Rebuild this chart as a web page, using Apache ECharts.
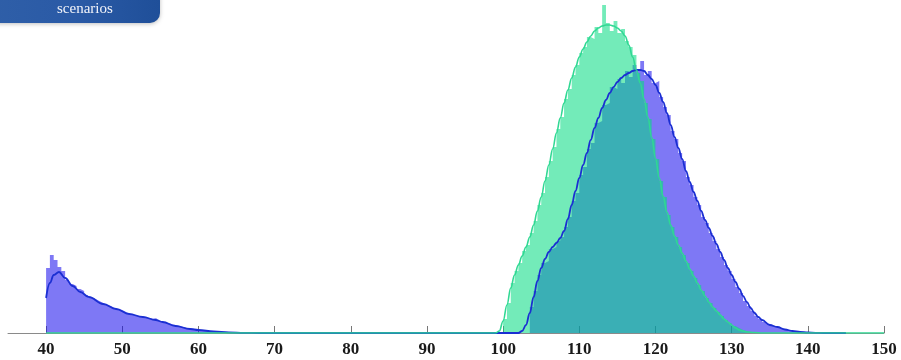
<!DOCTYPE html>
<html>
<head>
<meta charset="utf-8">
<script src="https://cdn.jsdelivr.net/npm/echarts@6/dist/echarts.min.js"></script>
<style>
  html, body { margin: 0; padding: 0; background: #fff; }
  #chart { width: 901px; height: 360px; }
</style>
</head>
<body>
<div id="chart"></div>
<script>
const binWidth = 0.5;
const blueLowStart = 40;
const blueLowCounts = [65, 78, 73, 66, 62, 53, 49, 47, 44, 42, 38, 35, 34, 32, 30, 28, 27, 25, 24, 23,
    21, 19, 18, 17, 17, 16, 15, 14, 15, 12, 11, 10, 9, 8, 7, 6, 5, 5, 4, 3,
    3, 2, 2, 2, 1, 1, 1, 1, 0.5, 0.5, 0.5, 0.5];
const blueHighStart = 103.5;
const blueHighCounts = [26, 42, 58, 70, 72, 84, 86, 92, 96, 106, 116, 132, 140, 158, 166, 184, 190, 210, 212, 228,
    230, 246, 244, 254, 250, 262, 256, 268, 262, 272, 258, 262, 250, 252, 236, 226, 218, 202, 194, 180,
    172, 156, 148, 136, 128, 116, 110, 100, 92, 84, 76, 68, 62, 54, 46, 40, 32, 27, 22, 17,
    14, 11, 9, 7, 6, 5, 4, 3, 2, 2, 1, 1, 0.5, 0.5];
const greenStart = 100;
const greenCounts = [14, 30, 50, 62, 70, 82, 88, 100, 112, 128, 140, 156, 172, 186, 204, 216, 234, 244, 258, 268,
    280, 286, 296, 294, 306, 300, 328, 310, 302, 312, 300, 304, 292, 286, 278, 260, 252, 230, 214, 194,
    174, 152, 136, 118, 106, 96, 86, 78, 70, 62, 55, 48, 42, 35, 30, 25, 21, 17, 13, 10,
    7, 5, 3, 2, 1, 1, 0.5];

// fitted density curves
const blueFitX = [40, 40.5, 41, 41.7, 42.5, 43.5, 44.5, 45.6, 47.5, 49.2, 50.9, 52.7, 54.4, 55.3, 57, 58.9, 60, 62, 64, 66, 68,
    100, 102, 102.5, 103, 103.5, 104, 104.5, 105, 105.5, 106, 106.5, 107, 107.5, 108, 108.5, 109, 109.5, 110, 110.5, 111, 111.5,
    112, 112.5, 113, 113.5, 114, 114.5, 115, 115.5, 116, 116.5, 117, 117.5, 118, 118.5, 119, 119.5, 120, 120.5, 121, 121.5,
    122, 122.5, 123, 123.5, 124, 124.5, 125, 125.5, 126, 126.5, 127, 127.5, 128, 128.5, 129, 129.5, 130, 130.5, 131, 131.5,
    132, 132.5, 133, 133.5, 134, 135, 136, 137, 138, 139, 140, 141, 142, 145];
const blueFitY = [35, 50, 58, 61, 55, 47, 41, 36, 29, 24, 19, 16, 13, 11, 7, 4, 3, 1.5, 0.7, 0.2, 0,
    0, 0, 2, 8, 20, 36, 52, 65, 74, 81, 86, 90, 95, 102, 114, 128, 142, 155, 168, 180, 193,
    205, 215, 225, 233, 240, 246, 251, 255, 258, 260, 262, 263, 263, 262, 258, 254, 248, 240, 231, 220,
    208, 196, 185, 174, 162, 151, 141, 132, 122, 113, 105, 97, 89, 81, 73, 65, 58, 51, 44, 37,
    31, 25, 20, 16, 13, 8, 6, 3.5, 2, 1, 0.5, 0.2, 0, 0];
const greenFitX = [40, 99, 99.5, 100, 100.5, 101, 101.5, 102, 102.5, 103, 103.5, 104, 104.5, 105, 105.5, 106, 106.5, 107, 107.5,
    108, 108.5, 109, 109.5, 110, 110.5, 111, 111.5, 112, 112.5, 113, 113.5, 114, 114.5, 115, 115.5, 116, 116.5, 117, 117.5,
    118, 118.5, 119, 119.5, 120, 120.5, 121, 121.5, 122, 122.5, 123, 123.5, 124, 124.5, 125, 125.5, 126, 126.5, 127, 127.5,
    128, 128.5, 129, 129.5, 130, 130.5, 131, 131.5, 132, 133, 134, 150];
const greenFitY = [0, 0, 2, 12, 28, 45, 58, 68, 77, 86, 96, 108, 122, 136, 152, 168, 184, 200, 215,
    230, 243, 255, 266, 276, 284, 291, 297, 302, 305, 307, 308, 308, 307, 305, 302, 297, 288, 276, 263,
    250, 234, 216, 196, 175, 155, 137, 121, 108, 97, 88, 80, 72, 64, 57, 50, 43, 37, 31, 26,
    22, 18, 14, 11, 8, 5, 3, 2, 1, 0.5, 0, 0];

const xTicks = [40, 50, 60, 70, 80, 90, 100, 110, 120, 130, 140, 150];

function histData(start, counts) {
    let pts = counts.map((c, i) => [start + i * binWidth, c]);
    pts.push([start + counts.length * binWidth, 0]);
    return pts;
}
function zipXY(xs, ys) {
    return xs.map((x, i) => [x, ys[i]]);
}

let blueHist = histData(blueLowStart, blueLowCounts).concat(histData(blueHighStart, blueHighCounts));
let greenHist = histData(greenStart, greenCounts);

let myChart = echarts.init(document.getElementById('chart'));
let option = {
    backgroundColor: '#fff',
    animation: false,
    grid: {
        left: 8,
        right: 17,
        top: 3,
        bottom: 27
    },
    xAxis: {
        type: 'value',
        min: 35,
        max: 150,
        splitLine: {show: false},
        axisLine: {lineStyle: {color: '#8a8a8a', width: 1}},
        axisTick: {
            inside: true,
            length: 7,
            customValues: xTicks,
            lineStyle: {color: '#777'}
        },
        axisLabel: {
            customValues: xTicks,
            margin: 8,
            fontFamily: 'Liberation Serif',
            fontWeight: 'bold',
            fontSize: 17,
            color: '#1a1a1a'
        }
    },
    yAxis: {
        type: 'value',
        min: 0,
        max: 330,
        show: false
    },
    series: [
        {
            name: 'blue hist',
            type: 'line',
            step: 'end',
            symbol: 'none',
            data: blueHist,
            lineStyle: {width: 0, opacity: 0},
            areaStyle: {color: 'rgb(20,10,237)', opacity: 0.55}
        },
        {
            name: 'green hist',
            type: 'line',
            step: 'end',
            symbol: 'none',
            data: greenHist,
            lineStyle: {width: 0, opacity: 0},
            areaStyle: {color: 'rgb(5,219,130)', opacity: 0.56}
        },
        {
            name: 'blue fit',
            type: 'line',
            smooth: 0.4,
            smoothMonotone: 'x',
            symbol: 'none',
            data: zipXY(blueFitX, blueFitY),
            lineStyle: {color: '#1b2fd2', width: 1.8}
        },
        {
            name: 'green fit',
            type: 'line',
            smooth: 0.4,
            smoothMonotone: 'x',
            symbol: 'none',
            data: zipXY(greenFitX, greenFitY),
            lineStyle: {color: '#30d893', width: 1.6}
        }
    ],
    graphic: [
        {
            type: 'rect',
            shape: {x: -12, y: -12, width: 172, height: 35, r: 10},
            style: {
                fill: new echarts.graphic.LinearGradient(0, 0, 1, 0, [
                    {offset: 0, color: '#2f5fa8'},
                    {offset: 0.5, color: '#2a5aa6'},
                    {offset: 1, color: '#1f4f99'}
                ]),
                shadowBlur: 4,
                shadowColor: 'rgba(0,0,0,0.25)',
                shadowOffsetY: 1
            }
        },
        {
            type: 'text',
            left: 57,
            top: 2,
            style: {
                text: 'scenarios',
                fill: '#f2f4fa',
                font: '15px "Liberation Serif"'
            }
        }
    ]
};
if (option && typeof option === "object") {
    myChart.setOption(option, true);
}
</script>
</body>
</html>
